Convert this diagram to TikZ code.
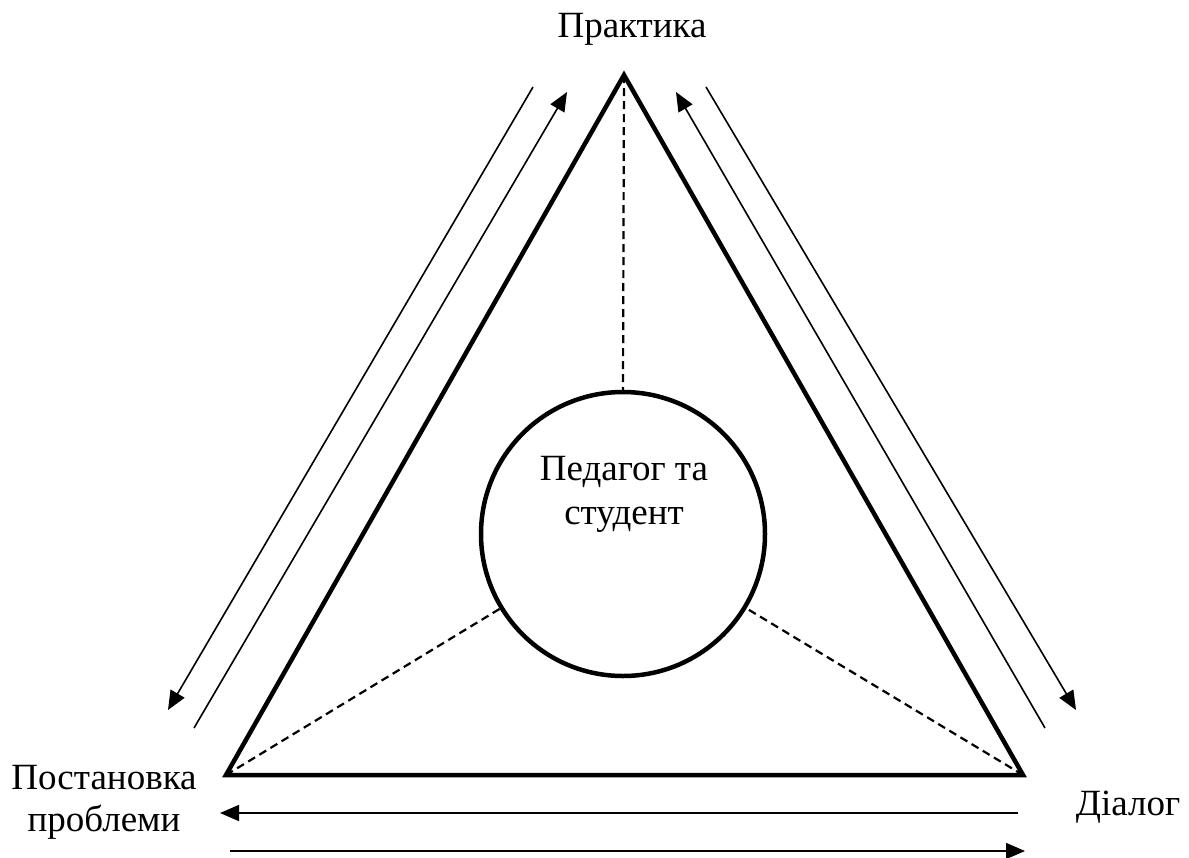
\documentclass[tikz,border=0pt]{standalone}
\usepackage{fontspec}
\setmainfont{Liberation Serif}
\usetikzlibrary{arrows.meta}

\begin{document}
\begin{tikzpicture}[x=1pt,y=-1pt,
		side/.style={line width=4.5pt,line join=miter},
		flow/.style={line width=1.6pt,-{Triangle[length=19pt,width=16pt]}},
		hint/.style={line width=2.2pt,dash pattern=on 8pt off 5pt},
		label/.style={font=\fontsize{37}{42}\selectfont,align=center,inner sep=0pt}]
		\useasboundingbox (0,0) rectangle (1189,857);
		\coordinate (top) at (624,75);
		\coordinate (bl) at (226,775);
		\coordinate (br) at (1023,775);
		
		%dreieck
		\draw[side] (top) -- (bl) -- (br) -- cycle;
		\node[circle,draw,line width=4.5pt,minimum size=284pt,inner sep=0pt] (ped) at (623,534) {};
		\node[label,font=\fontsize{37}{44}\selectfont] (pedtext) at (624,494) {Педагог та\\студент};
		
		%gestrichelt
		\draw[hint] (top) -- (ped.north);
		\draw[hint] (bl) -- (ped);
		\draw[hint] (br) -- (ped);
		
		%beschriftung
		\node[label,anchor=base] (prak) at (632,37) {Практика};
		\node[label] (post) at (104,802) {Постановка\\проблеми};
		\node[label,anchor=base] (dial) at (1128,815) {Діалог};
		
		%pfeile links
		\coordinate (l1a) at (533,87);
		\coordinate (l1b) at (168,710);
		\coordinate (l2a) at (194,728);
		\coordinate (l2b) at (567,92);
		\draw[flow] (l1a) -- (l1b);
		\draw[flow] (l2a) -- (l2b);
		%pfeile rechts
		\coordinate (r1a) at (1045,728);
		\coordinate (r1b) at (676,92);
		\coordinate (r2a) at (706,87);
		\coordinate (r2b) at (1076,710);
		\draw[flow] (r1a) -- (r1b);
		\draw[flow] (r2a) -- (r2b);
		%pfeile unten
		\coordinate (u1a) at (1018,813);
		\coordinate (u1b) at (220,813);
		\coordinate (u2a) at (230,851);
		\coordinate (u2b) at (1025,851);
		\draw[flow] (u1a) -- (u1b);
		\draw[flow] (u2a) -- (u2b);
		
\end{tikzpicture}
\end{document}
